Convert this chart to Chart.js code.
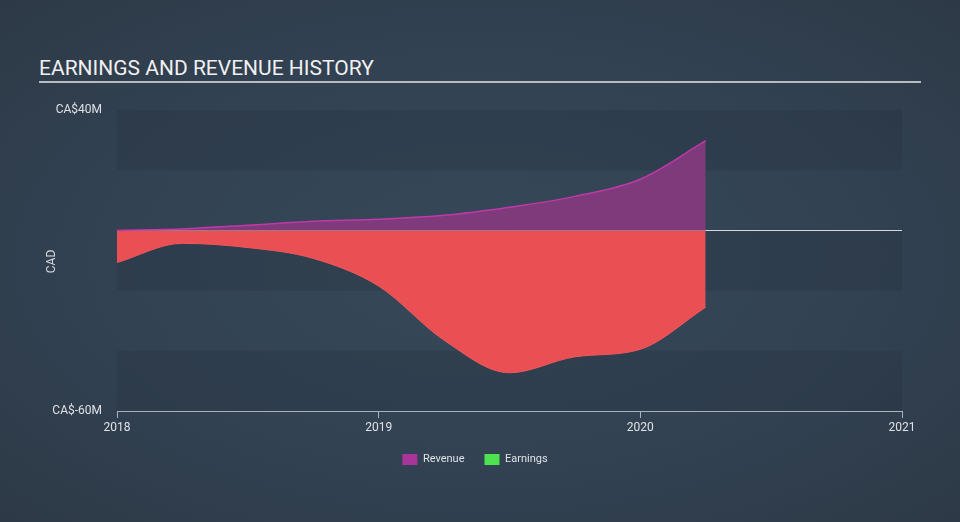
<!DOCTYPE html>
<html>
<head>
<meta charset="utf-8">
<script src="https://cdn.jsdelivr.net/npm/chart.js@4/dist/chart.umd.min.js"></script>
<style>
  html, body { margin: 0; padding: 0; }
  body {
    width: 960px; height: 522px; overflow: hidden; position: relative;
    background: radial-gradient(ellipse at 50% 50%, #364859 0%, #324253 55%, #2d3946 100%);
    font-family: Roboto, sans-serif;
  }
  #title {
    position: absolute; left: 39px; top: 55px; width: 882px;
    color: #f0f0f0; font-size: 21px; line-height: 26px;
    border-bottom: 2px solid #b8bcc2;
  }
  #wrap { position: absolute; left: 0; top: 0; width: 960px; height: 522px; }
</style>
</head>
<body>
<div id="title">EARNINGS AND REVENUE HISTORY</div>
<div id="wrap"><canvas id="chart" width="960" height="522"></canvas></div>
<script>
// quarters as decimal years
const periods = [2018.0, 2018.25, 2018.5, 2018.75, 2019.0, 2019.25, 2019.5, 2019.75, 2020.0, 2020.25];
const revenue = [0.0, 0.5, 1.7, 3.0, 3.7, 5.0, 7.7, 11.3, 17.0, 29.8];
const earnings = [-10.7, -4.3, -5.7, -9.3, -18.5, -36.5, -47.3, -42.0, -39.5, -25.5];
const yearTicks = [2018, 2019, 2020, 2021];
const yTickLabels = {40: 'CA$40M', '-60': 'CA$-60M'};

const bands = {
  id: 'bands',
  beforeDraw(chart) {
    const {ctx, chartArea: a, scales: {y}} = chart;
    ctx.save();
    ctx.fillStyle = 'rgba(28,38,52,0.2)';
    [[40, 20], [0, -20], [-40, -60]].forEach(([hi, lo]) => {
      const t = y.getPixelForValue(hi), b = y.getPixelForValue(lo);
      ctx.fillRect(a.left, t, a.right - a.left, b - t);
    });
    ctx.restore();
  },
  afterDraw(chart) {
    const {ctx, chartArea: a} = chart;
    ctx.save();
    ctx.translate(52, (a.top + a.bottom) / 2 + 1);
    ctx.rotate(-Math.PI / 2);
    ctx.fillStyle = '#d8dade';
    ctx.font = '12px Roboto';
    ctx.textAlign = 'center';
    ctx.textBaseline = 'middle';
    ctx.fillText('CAD', 0, 0);
    ctx.restore();
  }
};

let canvas = document.getElementById('chart');
new Chart(canvas, {
  type: 'line',
  data: {
    datasets: [
      {
        label: 'Revenue',
        data: periods.map((p, i) => ({x: p, y: revenue[i]})),
        borderColor: '#bf3aa8',
        backgroundColor: '#a8369a',
        borderWidth: 1.5,
        fill: {target: 'origin', above: 'rgba(126,58,122,1)', below: 'rgba(126,58,122,1)'},
        pointRadius: 0,
        cubicInterpolationMode: 'monotone'
      },
      {
        label: 'Earnings',
        data: periods.map((p, i) => ({x: p, y: earnings[i]})),
        borderColor: '#f2575c',
        backgroundColor: '#4fe24f',
        borderWidth: 1,
        fill: {target: 'origin', above: '#4fe24f', below: '#e94f53'},
        pointRadius: 0,
        cubicInterpolationMode: 'monotone'
      }
    ]
  },
  options: {
    responsive: false,
    animation: false,
    devicePixelRatio: 1,
    layout: {padding: {top: 110, right: 58, bottom: 47, left: 48}},
    plugins: {
      legend: {
        position: 'bottom',
        labels: {
          color: '#dfe1e5',
          font: {family: 'Roboto', size: 11},
          boxWidth: 15,
          boxHeight: 11,
          padding: 20,
          generateLabels: chart => Chart.defaults.plugins.legend.labels.generateLabels(chart)
            .map(it => Object.assign(it, {strokeStyle: it.fillStyle, lineWidth: 0}))
        }
      },
      tooltip: {enabled: false}
    },
    scales: {
      x: {
        type: 'linear',
        min: 2018,
        max: 2021,
        afterBuildTicks: axis => { axis.ticks = yearTicks.map(v => ({value: v})); },
        afterFit: axis => { axis.height = 23; },
        ticks: {
          color: '#dfe1e5',
          font: {family: 'Roboto', size: 12},
          padding: 3,
          maxRotation: 0,
          callback: v => String(v)
        },
        grid: {drawOnChartArea: false, drawTicks: true, tickLength: 7, color: '#aab2bd'},
        border: {display: true, color: '#aab2bd', width: 1}
      },
      y: {
        min: -60,
        max: 40,
        afterBuildTicks: axis => { axis.ticks = [{value: -60}, {value: 0}, {value: 40}]; },
        afterFit: axis => { axis.width = 69; },
        ticks: {
          color: '#dfe1e5',
          font: {family: 'Roboto', size: 12},
          padding: 15,
          callback: v => yTickLabels[v] || ''
        },
        grid: {
          drawTicks: false,
          color: c => (c.tick && c.tick.value === 0) ? '#d4d7dc' : 'rgba(0,0,0,0)',
          lineWidth: 1
        },
        border: {display: false}
      }
    }
  },
  plugins: [bands]
});
</script>
</body>
</html>
